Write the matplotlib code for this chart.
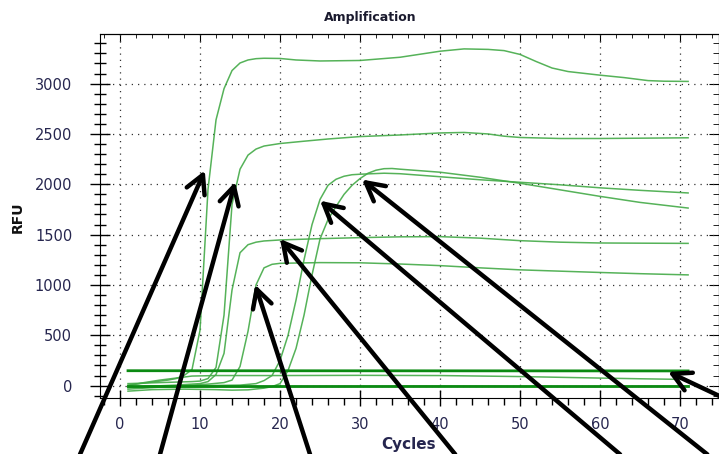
import numpy as np
import matplotlib
matplotlib.use('Agg')
import matplotlib.pyplot as plt
from matplotlib.ticker import MultipleLocator

# amplification curves (cycle, RFU)
c1_cyc = [1, 2, 3, 4, 5, 6, 7, 8, 9, 10, 11, 12, 13, 14, 15, 16, 17, 18, 20, 22, 25, 30, 35, 40, 43, 46, 48, 50, 52, 54, 56, 60, 63, 66, 68, 71]
c1_rfu = [5, 15, 25, 35, 45, 55, 70, 100, 160, 550, 1950, 2640, 2950, 3130, 3205, 3235, 3248, 3252, 3250, 3235, 3225, 3230, 3262, 3322, 3345, 3340, 3328, 3290, 3220, 3155, 3120, 3084, 3060, 3030, 3024, 3022]

c2_cyc = [1, 3, 5, 7, 9, 10, 11, 12, 13, 14, 15, 16, 17, 18, 20, 23, 26, 30, 35, 40, 43, 46, 48, 50, 55, 60, 65, 71]
c2_rfu = [20, 25, 30, 35, 40, 45, 70, 180, 700, 1800, 2150, 2290, 2350, 2380, 2405, 2428, 2450, 2474, 2490, 2510, 2515, 2500, 2478, 2465, 2455, 2455, 2458, 2462]

c3_cyc = [1, 4, 7, 10, 11, 12, 13, 14, 15, 16, 17, 18, 20, 25, 30, 35, 40, 45, 50, 55, 60, 65, 71]
c3_rfu = [-20, -5, 5, 20, 40, 110, 320, 950, 1320, 1400, 1425, 1437, 1447, 1460, 1470, 1478, 1480, 1465, 1440, 1425, 1417, 1415, 1413]

c4_cyc = [1, 4, 8, 11, 13, 14, 15, 16, 17, 18, 19, 20, 25, 30, 35, 40, 45, 50, 55, 60, 65, 71]
c4_rfu = [-35, -20, 0, 15, 30, 55, 190, 540, 1000, 1170, 1205, 1215, 1222, 1220, 1208, 1192, 1170, 1150, 1137, 1124, 1112, 1100]

c5_cyc = [1, 5, 10, 15, 17, 18, 19, 20, 21, 22, 23, 24, 25, 26, 27, 28, 29, 30, 33, 35, 40, 45, 50, 55, 60, 65, 71]
c5_rfu = [-10, -5, 0, 5, 20, 50, 100, 250, 500, 850, 1250, 1600, 1850, 1990, 2050, 2080, 2095, 2100, 2110, 2105, 2075, 2045, 2020, 1995, 1965, 1940, 1914]

c6_cyc = [1, 4, 8, 12, 14, 16, 18, 19, 20, 21, 22, 23, 24, 25, 26, 27, 28, 29, 30, 31, 32, 33, 34, 35, 40, 45, 50, 55, 60, 65, 71]
c6_rfu = [-55, -40, -35, -40, -45, -42, -25, -10, 20, 150, 370, 700, 1100, 1457, 1650, 1780, 1900, 1990, 2057, 2110, 2140, 2155, 2157, 2150, 2120, 2070, 2010, 1945, 1880, 1820, 1764]

# flat / negative traces
n1_cyc = [1, 3, 5, 7, 9, 12, 20, 30, 40, 50, 60, 65, 70]
n1_rfu = [0, 30, 55, 75, 95, 100, 100, 102, 100, 90, 75, 68, 62]
n2_cyc = [1, 20, 40, 60, 71]
n2_rfu = [-15, -10, -5, -10, -5]

thr_hi_cyc = [1, 71]
thr_hi_rfu = [148, 146]
thr_lo_cyc = [1, 71]
thr_lo_rfu = [-2, -2]

# arrows: (tip cycle, tip rfu, tail cycle, tail rfu)
arrows = [
    (10.6, 2137, -5.0, -683),
    (14.4, 2024, 5.0, -683),
    (16.9, 1002, 23.75, -683),
    (20.0, 1457, 41.9, -683),
    (25.0, 1837, 62.5, -683),
    (30.25, 2047, 73.4, -683),
    (68.5, 137, 77.5, -200),
]

thin_col = '#43aa47'
thick_col = '#0b8a12'
lab_col = '#26264f'

fig = plt.figure(figsize=(7.19, 4.54), dpi=100)
ax = fig.add_axes([100/719, 1-398/454, 618.5/719, 364/454])

for cyc, rfu in [(c1_cyc, c1_rfu), (c2_cyc, c2_rfu), (c3_cyc, c3_rfu),
                 (c4_cyc, c4_rfu), (c5_cyc, c5_rfu), (c6_cyc, c6_rfu),
                 (n1_cyc, n1_rfu), (n2_cyc, n2_rfu)]:
    ax.plot(cyc, rfu, color=thin_col, lw=1.1, alpha=0.9)
ax.plot(thr_hi_cyc, thr_hi_rfu, color=thick_col, lw=2.0)
ax.plot(thr_lo_cyc, thr_lo_rfu, color=thick_col, lw=2.0)

ax.set_xlim(-2.5, 74.8)
ax.set_ylim(-123, 3493)
ax.xaxis.set_major_locator(MultipleLocator(10))
ax.xaxis.set_minor_locator(MultipleLocator(2))
ax.yaxis.set_major_locator(MultipleLocator(500))
ax.yaxis.set_minor_locator(MultipleLocator(100))
ax.grid(True, which='major', color='#333333', lw=0.9, linestyle=(0, (1, 4)))

ax.tick_params(axis='y', which='major', direction='inout', length=14, width=1, pad=13,
               labelsize=10.5, labelcolor=lab_col)
ax.tick_params(axis='y', which='minor', direction='inout', length=8, width=1)
ax.tick_params(axis='x', which='major', direction='inout', length=12, width=1, pad=8,
               labelsize=10.5, labelcolor=lab_col)
ax.tick_params(axis='x', which='minor', direction='out', length=5, width=1)

top = ax.secondary_xaxis('top')
top.xaxis.set_major_locator(MultipleLocator(10))
top.xaxis.set_minor_locator(MultipleLocator(2))
top.tick_params(which='major', direction='in', length=6, labeltop=False)
top.tick_params(which='minor', direction='in', length=3)
right = ax.secondary_yaxis('right')
right.yaxis.set_major_locator(MultipleLocator(500))
right.yaxis.set_minor_locator(MultipleLocator(100))
right.tick_params(which='major', direction='in', length=7, labelright=False)
right.tick_params(which='minor', direction='in', length=4)

for tx, ty, sx, sy in arrows:
    ax.annotate('', xy=(tx, ty), xytext=(sx, sy), annotation_clip=False,
                arrowprops=dict(arrowstyle='->,head_length=1.3,head_width=0.7',
                                lw=3.2, color='black', shrinkA=0, shrinkB=0))

fig.text(370/719, 1-18/454, 'Amplification', ha='center', va='center',
         fontsize=9, fontweight='bold', color='#1a1a2e')
fig.text(409/719, 1-444/454, 'Cycles', ha='center', va='center',
         fontsize=11, fontweight='bold', color=lab_col)
fig.text(18/719, 1-217/454, 'RFU', ha='center', va='center', rotation=90,
         fontsize=10, fontweight='bold', color='#111111')

fig.savefig('out.png', dpi=100)
